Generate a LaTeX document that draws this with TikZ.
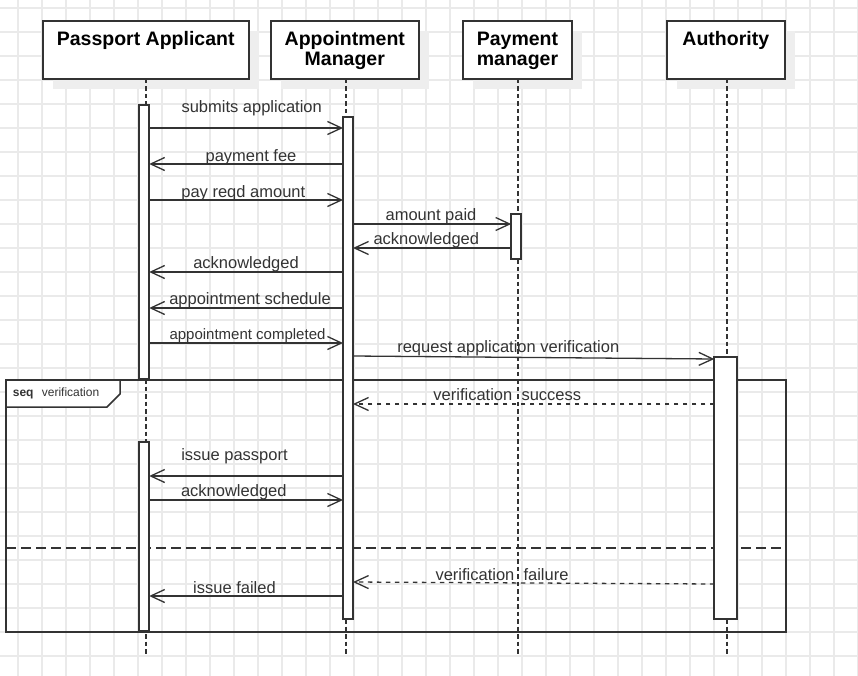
\documentclass[tikz,border=0pt]{standalone}
\usepackage{fontspec}
\setmainfont{Liberation Sans}
\usetikzlibrary{arrows.meta,calc,shadows}
\definecolor{ln}{HTML}{333333}
\definecolor{gridc}{RGB}{234,234,234}
\definecolor{shad}{RGB}{238,238,238}
\begin{document}
\begin{tikzpicture}[x=1pt,y=-1pt,
  gridline/.style={draw=gridc, line width=1.5pt},
  lifebox/.style={draw=ln, line width=2pt, fill=white, inner sep=0pt, outer sep=0pt,
    minimum height=58pt,
    drop shadow={shadow xshift=10pt, shadow yshift=-10pt, fill=shad, opacity=1}},
  title/.style={font=\fontsize{19.5}{20}\selectfont\bfseries, text=black, anchor=base, inner sep=0pt},
  lifeline/.style={draw=ln, line width=1.6pt, dash pattern=on 4.5pt off 3pt},
  bar/.style={draw=ln, line width=2pt, fill=white, inner sep=0pt, outer sep=0pt, minimum width=10pt},
  msg/.style={draw=ln, line width=1.3pt, -{Straight Barb[length=14pt,width=13pt]}},
  ret/.style={msg, dash pattern=on 4.5pt off 4.5pt},
  lbl/.style={font=\fontsize{16.5}{19}\selectfont, text=ln, anchor=base, inner sep=0pt},
  frm/.style={draw=ln, line width=1.5pt, inner sep=0pt, outer sep=0pt, anchor=north west},
  divider/.style={draw=ln, line width=1.5pt, dash pattern=on 10pt off 5pt}
]
\useasboundingbox (0,0) rectangle (858,676);
\fill[white] (0,0) rectangle (858,676);
% grid
\foreach \x in {18,42,...,858} \draw[gridline] (\x,0) -- (\x,676);
\foreach \y in {8,32,...,676} \draw[gridline] (0,\y) -- (858,\y);

% lifeline heads
\node[lifebox, minimum width=206pt] (pa) at (145.7,50) {};
\node[lifebox, minimum width=148.3pt] (am) at (344.8,50) {};
\node[lifebox, minimum width=109.6pt] (pm) at (517.5,50) {};
\node[lifebox, minimum width=118.3pt] (au) at (725.8,50) {};

\node[title] (tpa) at (145.7,45.7) {Passport Applicant};
\node[title] (tam1) at (344.8,45.7) {Appointment};
\node[title] (tam2) at (344.8,65.7) {Manager};
\node[title] (tpm1) at (517.5,45.7) {Payment};
\node[title] (tpm2) at (517.5,65.7) {manager};
\node[title] (tau) at (725.8,45.7) {Authority};

% lifelines
\draw[lifeline] (pa.south -| 146,0) -- (146,654);
\draw[lifeline] (am.south -| 345.7,0) -- (345.7,654);
\draw[lifeline] (pm.south -| 518,0) -- (518,654);
\draw[lifeline] (au.south -| 726.7,0) -- (726.7,654);

% frame
\node[frm, minimum width=780pt, minimum height=252pt] (fr) at (6,380) {};
\draw[draw=ln, line width=1.5pt, fill=white] (fr.north west) -- ++(114,0) -- ++(0,14) -- ++(-13,13) -- ++(-101,0) -- cycle;
\node[font=\fontsize{12}{14}\selectfont\bfseries, text=ln, anchor=base west, inner sep=0pt] (seqk) at (12.7,396.7) {seq};
\node[font=\fontsize{12}{14}\selectfont, text=ln, anchor=base west, inner sep=0pt] (seqn) at (41.7,396.7) {verification};
\draw[divider] (fr.west |- 0,548) -- (fr.east |- 0,548);

% activation bars
\node[bar, minimum height=274pt] (pa1) at (144.2,242) {};
\node[bar, minimum height=189pt] (pa2) at (144.2,536.3) {};
\node[bar, minimum height=502pt] (am1) at (348,368) {};
\node[bar, minimum height=45.3pt] (pm1) at (516.2,236.4) {};
\node[bar, minimum width=23pt, minimum height=262pt] (au1) at (725.8,488) {};

% messages
\draw[msg] (pa1.east |- 0,128) -- (am1.west |- 0,128);
\node[lbl] (l1) at (251.7,113) {submits application};
\draw[msg] (am1.west |- 0,164) -- (pa1.east |- 0,164);
\node[lbl] (l2) at (251,162) {payment fee};
\draw[msg] (pa1.east |- 0,200) -- (am1.west |- 0,200);
\node[lbl] (l3) at (243.3,197.5) {pay reqd amount};
\draw[msg] (am1.east |- 0,224) -- (pm1.west |- 0,224);
\node[lbl] (l4) at (431,221) {amount paid};
\draw[msg] (pm1.west |- 0,248) -- (am1.east |- 0,248);
\node[lbl] (l5) at (426.3,244.5) {acknowledged};
\draw[msg] (am1.west |- 0,272) -- (pa1.east |- 0,272);
\node[lbl] (l6) at (246,268.5) {acknowledged};
\draw[msg] (am1.west |- 0,308) -- (pa1.east |- 0,308);
\node[lbl] (l7) at (250,304.5) {appointment schedule};
\draw[msg] (pa1.east |- 0,343) -- (am1.west |- 0,343);
\node[lbl, font=\fontsize{15}{17}\selectfont] (l8) at (247.5,339.5) {appointment completed};
\draw[msg] (am1.east |- 0,356) -- (au1.west |- 0,359);
\node[lbl] (l9) at (508.3,352.3) {request application verification};
\draw[ret] (au1.west |- 0,404) -- (am1.east |- 0,404);
\node[lbl] (l10) at (507.3,400) {verification\ \ success};
\draw[msg] (am1.west |- 0,476) -- (pa2.east |- 0,476);
\node[lbl] (l11) at (234.5,460) {issue passport};
\draw[msg] (pa2.east |- 0,500) -- (am1.west |- 0,500);
\node[lbl] (l12) at (233.8,496.7) {acknowledged};
\draw[ret] (au1.west |- 0,584) -- (am1.east |- 0,582);
\node[lbl] (l13) at (502,580.7) {verification\ \ failure};
\draw[msg] (am1.west |- 0,596) -- (pa2.east |- 0,596);
\node[lbl] (l14) at (234.5,593) {issue failed};
\end{tikzpicture}
\end{document}
